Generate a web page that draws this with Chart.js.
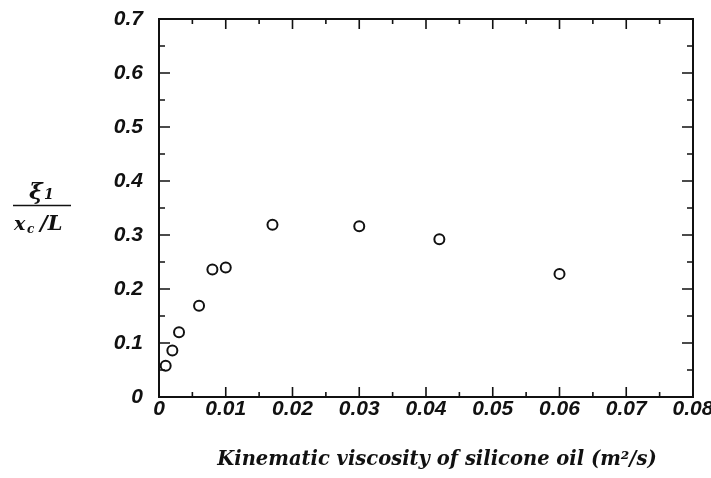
<!DOCTYPE html>
<html>
<head>
<meta charset="utf-8">
<script src="https://cdn.jsdelivr.net/npm/chart.js@4.4.1/dist/chart.umd.min.js"></script>
<style>
  html, body { margin: 0; padding: 0; background: #fff; }
  #wrap { width: 711px; height: 478px; position: relative; }
</style>
</head>
<body>
<div id="wrap"><canvas id="viscChart"></canvas></div>
<script>
// kinematic viscosity (m^2/s) vs. xi_1 / (x_c / L)
const viscosity = [0.001, 0.002, 0.003, 0.006, 0.008, 0.010, 0.017, 0.030, 0.042, 0.060];
const ratio = [0.058, 0.086, 0.120, 0.169, 0.236, 0.240, 0.319, 0.316, 0.292, 0.228];

const xTicks = [0, 0.01, 0.02, 0.03, 0.04, 0.05, 0.06, 0.07, 0.08];
const xTickLabels = ['0', '0.01', '0.02', '0.03', '0.04', '0.05', '0.06', '0.07', '0.08'];
const yTicks = [0, 0.1, 0.2, 0.3, 0.4, 0.5, 0.6, 0.7];
const yTickLabels = ['0', '0.1', '0.2', '0.3', '0.4', '0.5', '0.6', '0.7'];
const xTitle = 'Kinematic viscosity of silicone oil (m²/s)';

const INK = '#111';
const SERIF = "'DejaVu Serif', 'Liberation Serif', serif";
const tickFont = { family: "'Liberation Sans', Arial, sans-serif", size: 21, weight: 'bold', style: 'italic' };

// midpoints between major ticks get the short ticks
function minorOf(list) {
    const out = [];
    for (let i = 0; i < list.length - 1; i++) out.push((list[i] + list[i + 1]) / 2);
    return out;
}

// closed box with inward ticks on all four sides, plus the axis titles
const framePlugin = {
    id: 'frame',
    afterDraw(chart) {
        const { ctx, chartArea: a, scales: { x, y } } = chart;
        ctx.save();
        ctx.strokeStyle = INK;
        ctx.lineWidth = 2;
        ctx.strokeRect(a.left, a.top, a.right - a.left, a.bottom - a.top);

        ctx.lineWidth = 1.6;
        ctx.beginPath();
        xTicks.forEach(v => {
            const px = x.getPixelForValue(v);
            ctx.moveTo(px, a.bottom); ctx.lineTo(px, a.bottom - 10);
            ctx.moveTo(px, a.top); ctx.lineTo(px, a.top + 10);
        });
        minorOf(xTicks).forEach(v => {
            const px = x.getPixelForValue(v);
            ctx.moveTo(px, a.bottom); ctx.lineTo(px, a.bottom - 5);
            ctx.moveTo(px, a.top); ctx.lineTo(px, a.top + 5);
        });
        yTicks.forEach(v => {
            const py = y.getPixelForValue(v);
            ctx.moveTo(a.left, py); ctx.lineTo(a.left + 11, py);
            ctx.moveTo(a.right, py); ctx.lineTo(a.right - 11, py);
        });
        minorOf(yTicks).forEach(v => {
            const py = y.getPixelForValue(v);
            ctx.moveTo(a.left, py); ctx.lineTo(a.left + 6, py);
            ctx.moveTo(a.right, py); ctx.lineTo(a.right - 6, py);
        });
        ctx.stroke();

        ctx.fillStyle = INK;
        ctx.textBaseline = 'alphabetic';

        // x title, sits a little right of the plot centre
        ctx.textAlign = 'center';
        ctx.font = `bold italic 19.5px ${SERIF}`;
        ctx.fillText(xTitle, 437, 465);

        // xi_1 over x_c / L
        ctx.textAlign = 'left';
        ctx.font = `bold italic 23px ${SERIF}`;
        ctx.fillText('ξ', 29, 199);
        ctx.font = `bold italic 14px ${SERIF}`;
        ctx.fillText('1', 44, 199);

        ctx.lineWidth = 1.5;
        ctx.beginPath();
        ctx.moveTo(13, 205.5); ctx.lineTo(71, 205.5);
        ctx.stroke();

        ctx.font = `bold italic 19px ${SERIF}`;
        ctx.fillText('x', 14, 230);
        ctx.font = `bold italic 12px ${SERIF}`;
        ctx.fillText('c', 27, 233);
        ctx.font = `bold italic 21px ${SERIF}`;
        ctx.fillText('/L', 40, 230);
        ctx.restore();
    }
};

new Chart(document.getElementById('viscChart'), {
    type: 'scatter',
    data: {
        datasets: [{
            data: viscosity.map((v, i) => ({ x: v, y: ratio[i] })),
            pointStyle: 'circle',
            pointRadius: 5,
            pointHoverRadius: 5,
            pointBorderWidth: 2,
            pointBorderColor: INK,
            pointBackgroundColor: '#fff'
        }]
    },
    options: {
        responsive: true,
        maintainAspectRatio: false,
        animation: false,
        layout: { padding: { top: 19, right: 18, bottom: 0, left: 0 } },
        plugins: {
            legend: { display: false },
            tooltip: { enabled: false }
        },
        scales: {
            x: {
                type: 'linear',
                min: 0,
                max: 0.08,
                afterBuildTicks: s => { s.ticks = xTicks.map(v => ({ value: v })); },
                afterFit: s => { s.height = 81; s.paddingLeft = 0; s.paddingRight = 0; },
                grid: { display: false, drawTicks: false },
                border: { display: false },
                ticks: {
                    color: INK,
                    font: tickFont,
                    padding: 0,
                    maxRotation: 0,
                    autoSkip: false,
                    callback: (v, i) => xTickLabels[i]
                }
            },
            y: {
                type: 'linear',
                min: 0,
                max: 0.7,
                afterBuildTicks: s => { s.ticks = yTicks.map(v => ({ value: v })); },
                afterFit: s => { s.width = 159; s.paddingTop = 0; s.paddingBottom = 0; },
                grid: { display: false, drawTicks: false },
                border: { display: false },
                ticks: {
                    color: INK,
                    font: tickFont,
                    padding: 16,
                    autoSkip: false,
                    callback: (v, i) => yTickLabels[i]
                }
            }
        }
    },
    plugins: [framePlugin]
});
</script>
</body>
</html>
